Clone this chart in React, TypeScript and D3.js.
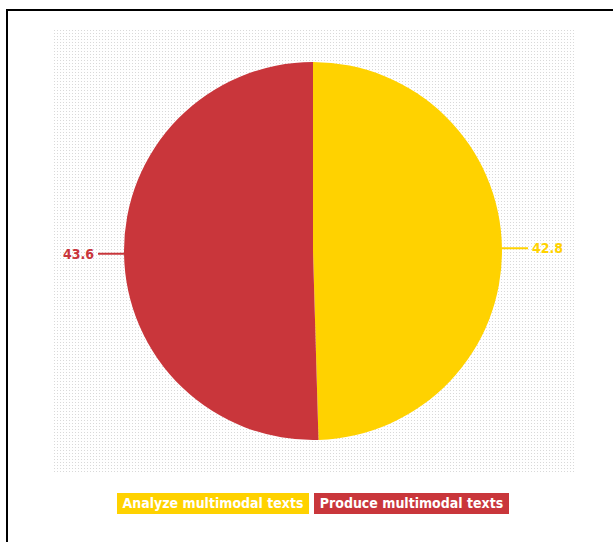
import React from "react";
import * as d3 from "d3";

const categories = ["Analyze multimodal texts", "Produce multimodal texts"];
const values = [42.8, 43.6];
const labels = ["42.8", "43.6"];
const colors = ["#ffd200", "#c9363b"];

const W = 613;
const H = 542;
const cx = 313;
const cy = 251;
const R = 189;
const FONT = "'DejaVu Sans Condensed', 'Liberation Sans Narrow', 'DejaVu Sans', sans-serif";

export default function App() {
  const pie = d3.pie<number>().sort(null).value((d) => d);
  const arcs = pie(values);
  const arc = d3.arc<d3.PieArcDatum<number>>().innerRadius(0).outerRadius(R);

  const legendX = [117, 314];
  const legendW = [192, 195];

  return (
    <svg width={W} height={H} style={{ position: "absolute", left: 0, top: 0, display: "block" }}>
      <defs>
        <pattern id="dots" width="3" height="3" patternUnits="userSpaceOnUse">
          <rect x="0" y="0" width="1" height="1" fill="#d9d9d9" />
        </pattern>
      </defs>
      <rect x={0} y={0} width={W} height={H} fill="#fff" />
      <rect x={7} y={10} width={W + 20} height={H + 20} fill="none" stroke="#000" strokeWidth={2} />
      <rect x={53} y={28} width={522} height={446} fill="url(#dots)" />
      <g transform={`translate(${cx},${cy})`}>
        {arcs.map((a, i) => (
          <path key={i} d={arc(a) || ""} fill={colors[i]} />
        ))}
        {arcs.map((a, i) => {
          const mid = (a.startAngle + a.endAngle) / 2;
          const sx = R * Math.sin(mid);
          const sy = -R * Math.cos(mid);
          const right = Math.sin(mid) > 0;
          const ex = sx + (right ? 26 : -26);
          return (
            <g key={"l" + i}>
              <line x1={sx} y1={sy} x2={ex} y2={sy} stroke={colors[i]} strokeWidth={2} />
              <text
                x={ex + (right ? 4 : -4)}
                y={sy}
                dy="0.35em"
                textAnchor={right ? "start" : "end"}
                fill={colors[i]}
                fontFamily={FONT}
                fontWeight="bold"
                fontSize={14}
              >
                {labels[i]}
              </text>
            </g>
          );
        })}
      </g>
      {categories.map((c, i) => (
        <g key={"lg" + i}>
          <rect x={legendX[i]} y={493} width={legendW[i]} height={21} fill={colors[i]} />
          <text
            x={legendX[i] + legendW[i] / 2}
            y={503.5}
            dy="0.35em"
            textAnchor="middle"
            fill="#fff"
            fontFamily={FONT}
            fontWeight="bold"
            fontSize={14}
          >
            {c}
          </text>
        </g>
      ))}
    </svg>
  );
}
